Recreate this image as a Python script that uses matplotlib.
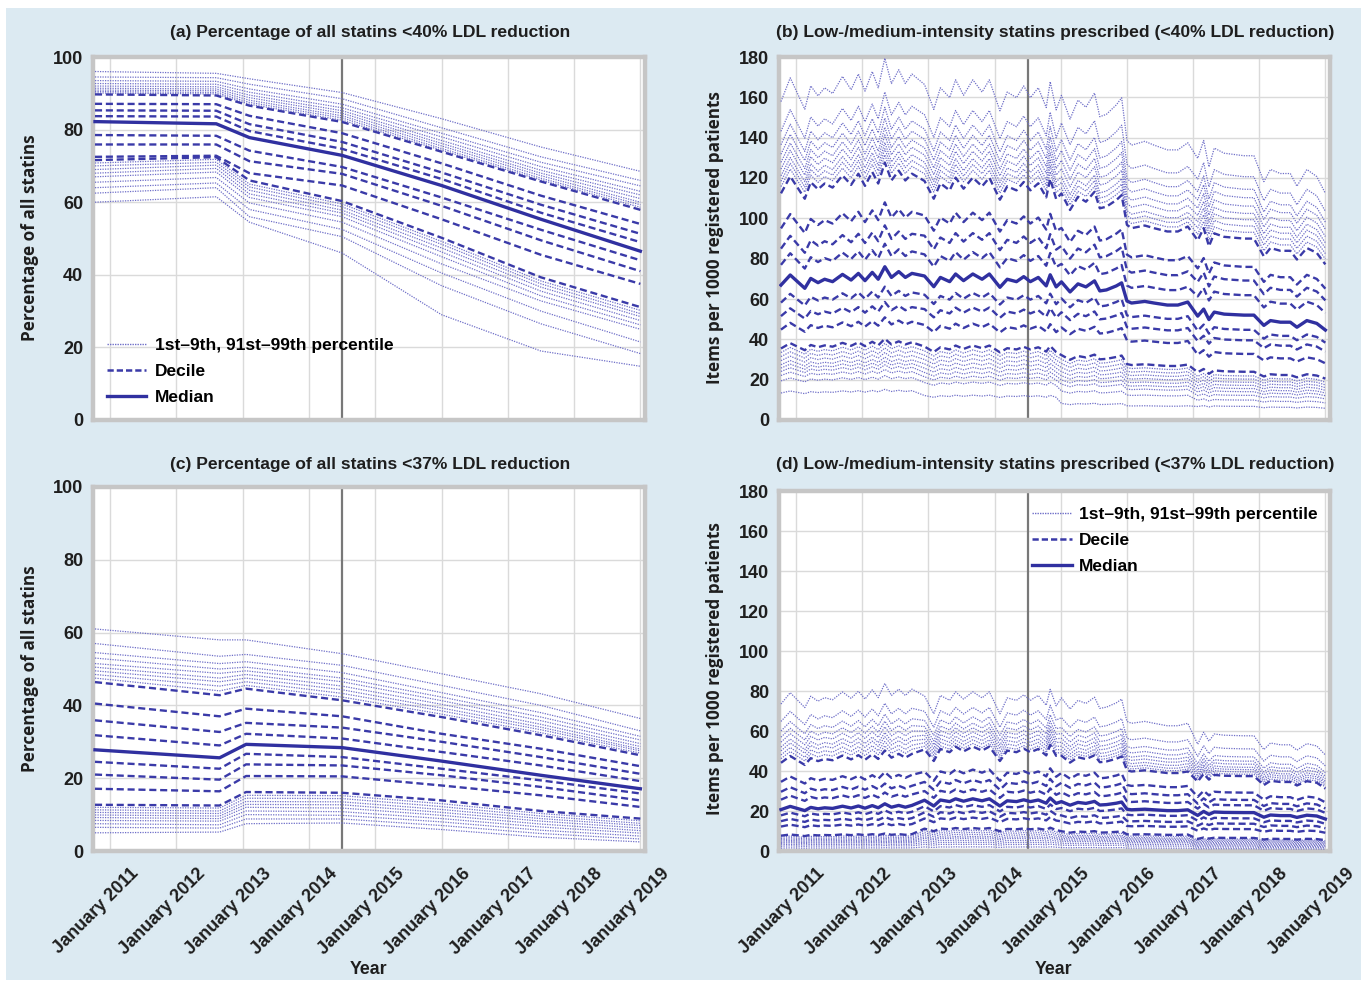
import numpy as np
import matplotlib
matplotlib.use("Agg")
import matplotlib.pyplot as plt
from matplotlib.lines import Line2D
from matplotlib.patches import Rectangle
from matplotlib.transforms import ScaledTranslation

# ---------------- data ----------------
years = [2011, 2012, 2013, 2014, 2015, 2016, 2017, 2018, 2019]
year_labels = ["January %d" % y for y in years]
guideline_date = 2014.5

# Panel (a): % of statins <40% LDL reduction, values at knot dates
a_knots = [2010.77, 2012.6, 2013.1, 2014.5, 2016.0, 2017.5, 2019.0]
a_p91_99 = [  # 99th .. 91st
    [96.0, 95.5, 94.0, 90.2, 83.0, 75.2, 68.5],
    [94.5, 94.3, 92.5, 88.5, 80.5, 72.5, 66.0],
    [93.5, 93.3, 91.2, 87.0, 79.0, 71.0, 64.5],
    [92.7, 92.5, 90.3, 86.0, 78.0, 69.8, 63.0],
    [92.0, 91.8, 89.5, 85.2, 77.0, 68.8, 62.0],
    [91.4, 91.2, 88.8, 84.5, 76.2, 68.0, 61.0],
    [90.9, 90.7, 88.1, 83.8, 75.5, 67.3, 60.0],
    [90.5, 90.2, 87.5, 83.2, 74.8, 66.6, 59.3],
    [90.1, 89.8, 87.0, 82.6, 74.3, 66.1, 58.6],
]
a_deciles = [  # 90, 80, 70, 60, 40, 30, 20, 10
    [89.7, 89.4, 86.6, 82.1, 73.9, 65.7, 57.9],
    [87.1, 87.0, 83.8, 79.0, 70.7, 61.8, 54.0],
    [85.3, 85.2, 81.5, 76.6, 68.2, 59.3, 51.3],
    [83.7, 83.6, 79.6, 74.7, 66.4, 57.1, 49.0],
    [78.5, 78.3, 74.2, 69.7, 61.3, 52.4, 44.0],
    [75.9, 75.9, 71.3, 67.8, 59.0, 49.5, 41.0],
    [72.5, 72.8, 68.0, 64.6, 55.3, 45.5, 37.5],
    [71.6, 72.4, 66.0, 60.3, 50.2, 39.3, 31.1],
]
a_median = [82.2, 81.6, 77.8, 72.9, 64.6, 55.3, 46.5]
a_p1_9 = [  # 9th .. 1st
    [70.8, 71.8, 65.0, 59.5, 49.2, 38.3, 30.2],
    [70.0, 71.0, 64.2, 58.7, 48.4, 37.5, 29.3],
    [69.0, 70.2, 63.3, 57.8, 47.4, 36.6, 28.5],
    [68.0, 69.3, 62.3, 57.0, 46.3, 35.5, 27.4],
    [67.0, 68.3, 61.3, 56.0, 45.0, 34.2, 26.2],
    [65.5, 66.8, 59.8, 54.5, 43.0, 32.8, 25.0],
    [64.0, 65.3, 58.0, 52.5, 40.5, 30.0, 21.5],
    [62.5, 64.0, 56.0, 50.5, 37.0, 26.5, 18.3],
    [60.0, 61.5, 54.5, 46.0, 29.0, 19.0, 14.8],
]

# Panel (c): % of statins <37% LDL reduction
c_knots = [2010.77, 2012.65, 2013.05, 2014.5, 2016.0, 2017.5, 2019.0]
c_p91_99 = [
    [61.0, 58.0, 58.0, 54.2, 48.7, 43.2, 36.4],
    [57.0, 53.5, 54.0, 51.0, 45.5, 40.0, 33.0],
    [54.5, 51.5, 52.0, 49.0, 43.5, 38.0, 31.5],
    [53.0, 50.0, 50.5, 47.5, 42.3, 36.8, 30.5],
    [51.5, 48.8, 49.5, 46.5, 41.3, 35.8, 29.5],
    [50.5, 47.5, 48.5, 45.3, 40.3, 34.8, 28.7],
    [49.5, 46.5, 47.5, 44.3, 39.3, 34.0, 28.0],
    [48.5, 45.3, 46.5, 43.3, 38.5, 33.3, 27.5],
    [47.5, 44.0, 45.5, 42.3, 37.6, 32.5, 26.9],
]
c_deciles = [
    [46.4, 42.8, 44.6, 41.4, 36.8, 31.8, 26.3],
    [40.5, 37.0, 39.1, 37.0, 32.2, 28.1, 23.3],
    [35.9, 32.7, 35.2, 33.9, 30.0, 25.8, 21.2],
    [31.8, 29.0, 32.2, 30.9, 27.2, 23.5, 19.2],
    [24.5, 22.6, 26.7, 25.8, 22.6, 19.4, 15.8],
    [21.0, 19.6, 23.8, 23.5, 20.8, 17.6, 13.9],
    [17.1, 16.4, 20.6, 20.5, 18.0, 15.3, 12.1],
    [12.7, 12.5, 16.2, 16.0, 13.9, 11.0, 8.9],
]
c_median = [27.8, 25.6, 29.3, 28.4, 24.7, 20.8, 17.1]
c_p1_9 = [
    [12.0, 11.8, 15.3, 15.2, 13.0, 10.3, 8.3],
    [11.3, 11.0, 14.5, 14.4, 12.2, 9.6, 7.6],
    [10.6, 10.3, 13.6, 13.5, 11.4, 8.9, 7.0],
    [9.9, 9.6, 12.8, 12.7, 10.6, 8.2, 6.3],
    [9.2, 8.9, 12.0, 11.8, 9.8, 7.4, 5.6],
    [8.4, 8.2, 11.0, 10.8, 8.9, 6.6, 4.9],
    [7.5, 7.2, 10.0, 9.8, 8.0, 5.7, 4.1],
    [6.5, 6.3, 8.8, 8.8, 7.0, 4.8, 3.3],
    [5.0, 5.2, 7.5, 7.7, 5.9, 3.8, 2.5],
]

# Panels (b) and (d): items per 1000 patients, median read at each data month
bd_dates = [
    2010.77, 2010.91, 2011.13, 2011.22, 2011.33, 2011.43, 2011.55, 2011.70, 2011.83, 2011.94,
    2012.04, 2012.15, 2012.24, 2012.34, 2012.44, 2012.55, 2012.65, 2012.75, 2012.94, 2013.08,
    2013.18, 2013.32, 2013.41, 2013.53, 2013.67, 2013.81, 2013.92, 2014.08, 2014.19, 2014.33,
    2014.44, 2014.54, 2014.66, 2014.78, 2014.84, 2014.93, 2015.01, 2015.14, 2015.26, 2015.38,
    2015.51, 2015.59, 2015.69, 2015.84, 2015.92, 2016.00, 2016.07, 2016.27, 2016.41, 2016.61,
    2016.77, 2016.92, 2017.07, 2017.16, 2017.24, 2017.32, 2017.47, 2017.77, 2017.92, 2018.07,
    2018.17, 2018.32, 2018.47, 2018.57, 2018.72, 2018.87, 2019.00,
]
b_median = [
    66.9, 71.9, 65.3, 70.2, 68.1, 69.8, 68.6, 72.2, 69.4, 72.7,
    69.1, 73.2, 69.8, 76.0, 70.7, 73.6, 70.7, 72.7, 71.4, 66.1,
    70.7, 68.6, 72.4, 69.1, 72.4, 69.8, 72.4, 65.8, 69.8, 68.6,
    71.1, 68.6, 70.7, 66.5, 72.0, 66.0, 68.5, 63.5, 67.5, 66.0,
    69.0, 64.0, 64.5, 66.5, 68.0, 59.0, 58.0, 58.8, 58.0, 57.0,
    57.0, 58.5, 51.5, 55.0, 49.8, 53.5, 52.5, 52.0, 52.0, 46.9,
    49.3, 48.5, 48.5, 46.0, 49.3, 47.9, 44.6,
]
d_median = [
    20.7, 22.3, 20.2, 21.8, 21.1, 21.6, 21.3, 22.4, 21.5, 22.5,
    21.4, 22.7, 21.6, 23.6, 21.9, 22.8, 21.9, 22.8, 25.4, 22.5,
    25.5, 24.7, 26.1, 24.9, 26.1, 25.1, 26.1, 22.5, 25.1, 24.7,
    25.6, 24.7, 25.5, 23.9, 26.5, 23.8, 24.7, 22.9, 24.3, 23.8,
    24.8, 23.0, 23.2, 23.9, 24.5, 20.9, 20.6, 20.9, 20.6, 20.2,
    20.2, 20.6, 17.8, 19.8, 18.3, 19.5, 19.3, 19.2, 19.2, 16.9,
    18.0, 17.7, 17.7, 16.8, 17.9, 17.5, 16.0,
]
# each percentile as a multiple of the median, per period (to late 2012, 2013-14, 2015-16, 2017-18)
period_breaks = [2012.8, 2015.0, 2017.0]
b_ratio_p91_99 = [
    [2.36, 2.33, 2.35, 2.52], [2.14, 2.12, 2.15, 2.32], [2.04, 2.02, 2.03, 2.20],
    [1.97, 1.95, 1.95, 2.12], [1.91, 1.89, 1.88, 2.04], [1.86, 1.84, 1.82, 1.97],
    [1.81, 1.79, 1.76, 1.91], [1.77, 1.75, 1.72, 1.85], [1.73, 1.71, 1.68, 1.79],
]
b_ratio_deciles = [
    [1.68, 1.66, 1.64, 1.73], [1.42, 1.42, 1.39, 1.46], [1.27, 1.28, 1.26, 1.33],
    [1.15, 1.15, 1.13, 1.19], [0.87, 0.87, 0.88, 0.86], [0.77, 0.77, 0.78, 0.76],
    [0.67, 0.66, 0.67, 0.63], [0.53, 0.51, 0.47, 0.46],
]
b_ratio_p1_9 = [
    [0.50, 0.48, 0.44, 0.42], [0.47, 0.45, 0.41, 0.39], [0.44, 0.42, 0.38, 0.36],
    [0.41, 0.39, 0.35, 0.33], [0.385, 0.36, 0.32, 0.30], [0.36, 0.33, 0.29, 0.27],
    [0.33, 0.30, 0.26, 0.235], [0.29, 0.26, 0.21, 0.19], [0.20, 0.17, 0.12, 0.13],
]
d_ratio_p91_99 = [
    [3.55, 3.05, 3.10, 3.00], [3.13, 2.75, 2.70, 2.66], [2.90, 2.57, 2.50, 2.45],
    [2.75, 2.45, 2.38, 2.34], [2.63, 2.36, 2.28, 2.26], [2.51, 2.28, 2.20, 2.18],
    [2.42, 2.20, 2.12, 2.12], [2.32, 2.13, 2.05, 2.06], [2.23, 2.06, 1.99, 2.00],
]
d_ratio_deciles = [
    [2.13, 2.00, 1.93, 1.95], [1.67, 1.56, 1.58, 1.52], [1.43, 1.36, 1.38, 1.33],
    [1.24, 1.18, 1.19, 1.19], [0.86, 0.88, 0.87, 0.85], [0.72, 0.76, 0.72, 0.71],
    [0.59, 0.64, 0.60, 0.57], [0.37, 0.44, 0.40, 0.34],
]
d_ratio_p1_9 = [
    [0.335, 0.40, 0.36, 0.31], [0.30, 0.36, 0.32, 0.28], [0.27, 0.32, 0.29, 0.25],
    [0.24, 0.28, 0.26, 0.22], [0.21, 0.25, 0.23, 0.19], [0.185, 0.21, 0.20, 0.16],
    [0.15, 0.17, 0.16, 0.13], [0.115, 0.13, 0.12, 0.10], [0.07, 0.08, 0.07, 0.06],
]

titles = [
    "(a) Percentage of all statins <40% LDL reduction",
    "(b) Low-/medium-intensity statins prescribed (<40% LDL reduction)",
    "(c) Percentage of all statins <37% LDL reduction",
    "(d) Low-/medium-intensity statins prescribed (<37% LDL reduction)",
]
ylabels = ["Percentage of all statins", "Items per 1000 registered patients"]
legend_labels = ["1st\u20139th, 91st\u201399th percentile", "Decile", "Median"]

# ---------------- style ----------------
W, H = 1367, 985
DOT_C, DASH_C, MED_C = "#6f6fc8", "#3a3aa8", "#3030a0"
BG = "#dceaf2"
FONT = ["Liberation Sans", "DejaVu Sans"]
YFONT = ["Open Sans", "DejaVu Sans"]
dot_kw = dict(color=DOT_C, lw=0.9, ls=(0, (1, 1)), zorder=3)
dash_kw = dict(color=DASH_C, lw=1.7, ls=(0, (3, 1.6)), zorder=4)
med_kw = dict(color=MED_C, lw=2.4, ls="-", zorder=5)

fig = plt.figure(figsize=(W / 100, H / 100), dpi=100)
fig.patch.set_facecolor("white")
fig.patches.append(Rectangle((6 / W, 5 / H), 1355 / W, 972 / H, transform=fig.transFigure,
                             facecolor=BG, edgecolor="none", zorder=-10))


def px_axes(l, t, r, b):
    ax = fig.add_axes([l / W, 1 - b / H, (r - l) / W, (b - t) / H])
    ax.set_zorder(1)
    return ax


axA = px_axes(93, 57, 645, 420)
axB = px_axes(779, 57, 1330, 420)
axC = px_axes(93, 487, 645, 851)
axD = px_axes(779, 491, 1330, 851)


def style(ax, ymax, ystep, bottom):
    ax.set_facecolor("white")
    ax.set_xlim(2010.74, 2019.07)
    ax.set_ylim(0, ymax)
    ax.set_xticks(years)
    ax.set_yticks(list(range(0, ymax + 1, ystep)))
    ax.grid(True, color="#dadada", lw=1.0, zorder=0)
    ax.set_axisbelow(True)
    for s in ax.spines.values():
        s.set_color("#c6c6c6")
        s.set_linewidth(3.2)
    ax.tick_params(length=0, pad=7)
    for lab in ax.get_yticklabels():
        lab.set_fontfamily(FONT)
        lab.set_fontweight("bold")
        lab.set_fontsize(13)
        lab.set_color("#1e1e1e")
    if bottom:
        ax.set_xticklabels(year_labels, rotation=45, ha="right", va="center",
                           rotation_mode="anchor", fontfamily=FONT, fontweight="bold",
                           fontsize=13, color="#1e1e1e")
        off = ScaledTranslation(0.26, -0.10, fig.dpi_scale_trans)
        for lab in ax.get_xticklabels():
            lab.set_transform(lab.get_transform() + off)
    else:
        ax.set_xticklabels([])
    ax.axvline(guideline_date, color="#787878", lw=1.6, zorder=2)


def draw_knots(ax, knots, upper, deciles, median, lower):
    for row in upper + lower:
        ax.plot(knots, row, **dot_kw)
    for row in deciles:
        ax.plot(knots, row, **dash_kw)
    ax.plot(knots, median, **med_kw)


def draw_ratio(ax, median, r_upper, r_deciles, r_lower):
    med = np.asarray(median)
    idx = np.searchsorted(period_breaks, bd_dates, side="right")
    for r in r_upper + r_lower:
        ax.plot(bd_dates, med * np.asarray(r)[idx], **dot_kw)
    for r in r_deciles:
        ax.plot(bd_dates, med * np.asarray(r)[idx], **dash_kw)
    ax.plot(bd_dates, med, **med_kw)


draw_knots(axA, a_knots, a_p91_99, a_deciles, a_median, a_p1_9)
draw_knots(axC, c_knots, c_p91_99, c_deciles, c_median, c_p1_9)
draw_ratio(axB, b_median, b_ratio_p91_99, b_ratio_deciles, b_ratio_p1_9)
draw_ratio(axD, d_median, d_ratio_p91_99, d_ratio_deciles, d_ratio_p1_9)

style(axA, 100, 20, False)
style(axB, 180, 20, False)
style(axC, 100, 20, True)
style(axD, 180, 20, True)

handles = [Line2D([], [], color=DOT_C, lw=1.0, ls=(0, (1, 0.8))),
           Line2D([], [], color=DASH_C, lw=1.8, ls=(0, (2.5, 1.2))),
           Line2D([], [], color=MED_C, lw=2.4)]
lp = dict(family=FONT, weight="bold", size=12.5)
axA.legend(handles, legend_labels, loc="upper left", bbox_to_anchor=(0.012, 0.245),
           frameon=False, handlelength=2.3, handletextpad=0.5, labelspacing=0.62,
           borderaxespad=0, prop=lp)
axD.legend(handles, legend_labels, loc="upper right", bbox_to_anchor=(0.99, 0.975),
           frameon=False, handlelength=2.3, handletextpad=0.4, labelspacing=0.62,
           borderaxespad=0, prop=lp)


def ftext(x, y, s, **kw):
    fig.text(x / W, 1 - y / H, s, **kw)


tk = dict(ha="center", va="center", fontfamily=FONT, fontweight="bold", fontsize=12.6, color="#1e1e1e")
ftext(370, 32, titles[0], **tk)
ftext(1055, 32, titles[1], **tk)
ftext(370, 465, titles[2], **tk)
ftext(1055, 465, titles[3], **tk)

yk = dict(ha="center", va="center", rotation=90, fontfamily=YFONT, fontweight="bold",
          fontsize=12.3, color="#1e1e1e")
ftext(30, 238, ylabels[0], **yk)
ftext(715, 238, ylabels[1], **yk)
ftext(30, 669, ylabels[0], **yk)
ftext(715, 669, ylabels[1], **yk)

xk = dict(ha="center", va="center", fontfamily=FONT, fontweight="bold", fontsize=12.8, color="#1e1e1e")
ftext(369, 970, "Year", **xk)
ftext(1054, 970, "Year", **xk)

fig.savefig("out.png", dpi=100, facecolor=fig.get_facecolor())
